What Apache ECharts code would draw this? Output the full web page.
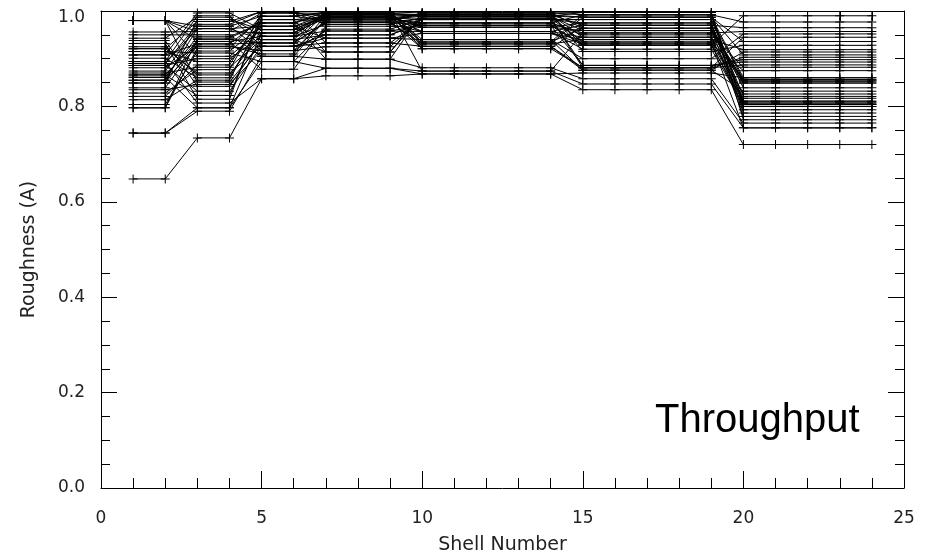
<!DOCTYPE html>
<html>
<head>
<meta charset="utf-8">
<script src="https://cdn.jsdelivr.net/npm/echarts@6/dist/echarts.min.js"></script>
<style>
html,body{margin:0;padding:0;background:#fff;}
#chart{width:934px;height:559px;}
</style>
</head>
<body>
<div id="chart"></div>
<script>
// Shell numbers on the x axis
const shells = [1,2,3,4,5,6,7,8,9,10,11,12,13,14,15,16,17,18,19,20,21,22,23,24];
// Which shell group each shell belongs to (roughness is constant inside a group)
const shellGroup = [0,0,1,1,2,2,3,3,3,4,4,4,4,4,5,5,5,5,5,6,6,6,6,6];

// Roughness (A) of each trial, per shell group (shells 1-2, 3-4, 5-6, 7-9, 10-14, 15-19, 20-24)
const g1 = [0.648,0.744,0.744,0.980,0.866,0.921,0.797,0.894,0.956,0.855,0.908,0.980,0.839,0.890,0.915,0.861,0.950,0.797,0.886,0.921,0.980,0.849,0.901,0.943,0.874,0.828,0.908,0.866,0.980,0.915,0.855,0.938,0.881,0.821,0.894,0.861,0.932,0.849,0.886,0.980,0.814,0.890,0.925,0.804,0.870,0.835];
const g2 = [0.734,0.797,0.790,0.968,0.936,0.870,0.943,0.807,0.957,0.926,0.996,0.851,0.931,0.963,0.894,0.797,0.950,0.922,0.832,0.978,0.905,0.936,0.860,0.987,0.968,0.877,0.931,0.823,0.957,0.912,0.963,0.842,0.926,0.887,0.990,0.946,0.815,0.982,0.900,0.940,0.855,0.972,0.866,0.916,0.882,0.846];
const g3 = [0.858,0.894,0.905,0.989,0.947,0.926,0.975,0.858,0.996,0.917,0.961,0.933,0.982,0.940,0.968,0.954,0.905,0.989,0.926,0.999,0.961,0.878,0.975,0.947,0.917,0.996,0.933,0.982,0.954,0.894,0.968,0.940,0.910,0.989,0.926,0.975,0.996,0.961,0.947,0.933,0.982,0.999,0.954,0.968,0.940,0.917];
const g4 = [0.864,0.880,0.899,0.998,0.972,0.933,0.992,0.880,0.995,0.958,0.989,0.976,0.914,0.998,0.943,0.986,0.983,0.995,0.950,0.979,0.992,0.968,0.899,0.998,0.925,0.989,0.976,0.986,0.995,0.962,0.983,0.914,0.992,0.979,0.943,0.998,0.972,0.989,0.958,0.995,0.976,0.933,0.986,0.992,0.950,0.983];
const g5 = [0.868,0.874,0.881,0.996,0.957,0.926,0.992,0.868,0.989,0.970,0.935,0.985,0.996,0.874,0.940,0.982,0.992,0.953,0.975,0.921,0.989,0.966,0.996,0.931,0.985,0.957,0.970,0.992,0.940,0.982,0.975,0.989,0.926,0.996,0.953,0.935,0.985,0.966,0.957,0.992,0.931,0.982,0.970,0.921,0.975,0.989];
const g6 = [0.835,0.847,0.858,0.992,0.945,0.881,0.970,0.870,0.987,0.931,0.964,0.886,0.997,0.954,0.876,0.982,0.928,0.940,0.992,0.881,0.959,0.975,0.915,0.987,0.935,0.970,0.886,0.945,0.900,0.982,0.954,0.997,0.876,0.964,0.931,0.992,0.881,0.959,0.920,0.987,0.940,0.975,0.928,0.970,0.950,0.935];
const g7 = [0.720,0.755,0.765,0.977,0.849,0.903,0.807,0.860,0.936,0.800,0.853,0.893,0.772,0.957,0.832,0.856,0.811,0.919,0.804,0.887,0.849,0.786,0.928,0.860,0.755,0.839,0.898,0.807,0.952,0.821,0.853,0.800,0.914,0.779,0.875,0.811,0.945,0.856,0.804,0.908,0.826,0.793,0.990,0.965,0.882,0.817];

const xTicks = [0,5,10,15,20,25];
const yTicks = [0.0,0.2,0.4,0.6,0.8,1.0];

const groups = [g1,g2,g3,g4,g5,g6,g7];
const plus = 'path://M0,4H9V5H0Z M4,0H5V9H4Z';
const axisFont = 'DejaVu Sans';

const series = g1.map((_, i) => ({
  type: 'line',
  xAxisIndex: 0,
  yAxisIndex: 0,
  data: shells.map((s, k) => [s, groups[shellGroup[k]][i]]),
  symbol: plus,
  symbolSize: 9,
  showAllSymbol: true,
  lineStyle: {color: '#000', width: 1},
  itemStyle: {color: '#000'},
  silent: true
}));

function xAxisCfg(pos, show) {
  return {
    type: 'value', position: pos, min: xTicks[0], max: xTicks[xTicks.length-1], interval: 5,
    name: show ? 'Shell Number' : '', nameLocation: 'middle', nameGap: 48,
    nameTextStyle: {fontFamily: axisFont, fontSize: 19, color: '#222'},
    axisLine: {show: true, onZero: false, lineStyle: {color: '#000', width: 1}},
    axisTick: {show: true, inside: true, length: 17, lineStyle: {color: '#000'}},
    minorTick: {show: true, splitNumber: 5, length: 10, lineStyle: {color: '#000'}},
    axisLabel: {show: show, margin: 22, fontFamily: axisFont, fontSize: 17, color: '#222'},
    splitLine: {show: false}, minorSplitLine: {show: false}
  };
}
function yAxisCfg(pos, show) {
  return {
    type: 'value', position: pos, min: yTicks[0], max: yTicks[yTicks.length-1], interval: 0.2,
    name: show ? 'Roughness (A)' : '', nameLocation: 'middle', nameGap: 62,
    nameTextStyle: {fontFamily: axisFont, fontSize: 19, color: '#222'},
    axisLine: {show: true, onZero: false, lineStyle: {color: '#000', width: 1}},
    axisTick: {show: true, inside: true, length: 16, lineStyle: {color: '#000'}},
    minorTick: {show: true, splitNumber: 4, length: 9, lineStyle: {color: '#000'}},
    axisLabel: {show: show, margin: 16, fontFamily: axisFont, fontSize: 17, color: '#222',
      formatter: v => v === 1 ? '{t|1.0}' : v.toFixed(1),
      rich: {t: {fontFamily: axisFont, fontSize: 17, color: '#222', padding: [14, 0, 0, 0]}}},
    splitLine: {show: false}, minorSplitLine: {show: false}
  };
}

const chart = echarts.init(document.getElementById('chart'), null, {renderer: 'canvas'});
chart.setOption({
  animation: false,
  backgroundColor: '#fff',
  grid: {left: 101, right: 30, top: 11, bottom: 71, containLabel: false, outerBoundsMode: 'none'},
  xAxis: [xAxisCfg('bottom', true), xAxisCfg('top', false)],
  yAxis: [yAxisCfg('left', true), yAxisCfg('right', false)],
  series: series,
  graphic: [{
    type: 'text', left: 655, top: 401,
    style: {text: 'Throughput', font: '40px "Liberation Sans", Arial, sans-serif', fill: '#000'}
  }]
});
</script>
</body>
</html>
